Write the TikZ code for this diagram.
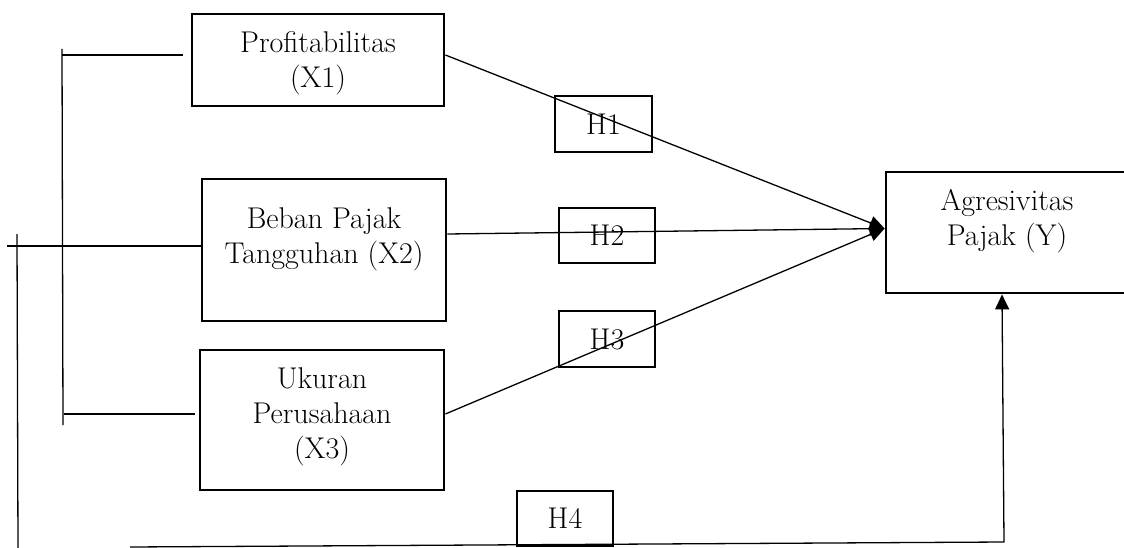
\documentclass[tikz,border=0pt]{standalone}
\usetikzlibrary{arrows.meta}
\begin{document}
\begin{tikzpicture}[x=1pt,y=-1pt,
  box/.style={draw, line width=2.8pt, inner sep=0pt},
  txt/.style={align=center, inner sep=0pt, font=\fontsize{30}{35}\selectfont},
  hbox/.style={box, font=\fontsize{30}{35}\selectfont},
  conn/.style={line width=1.3pt},
  arr/.style={conn, -{Triangle[length=15pt,width=14pt]}}]
\useasboundingbox (0,0) rectangle (1124,548);

% main boxes
\node[box, minimum width=252, minimum height=92] (x1) at (318,60) {};
\node[txt] (x1t) at (318,63) {Profitabilitas\\(X1)};
\node[box, minimum width=244, minimum height=142] (x2) at (324,250) {};
\node[txt] (x2t) at (324,239) {Beban Pajak\\Tangguhan (X2)};
\node[box, minimum width=244, minimum height=140] (x3) at (322,420) {};
\node[txt] (x3t) at (322,417) {Ukuran\\Perusahaan\\(X3)};
\node[box, minimum width=242, minimum height=121] (y) at (1007,232.5) {};
\node[txt] (yt) at (1007,221) {Agresivitas\\Pajak (Y)};

% hypothesis boxes
\node[hbox, minimum width=97, minimum height=56] (h1) at (603.5,124) {H1};
\node[hbox, minimum width=96, minimum height=55] (h2) at (607,235.5) {H2};
\node[hbox, minimum width=96, minimum height=56] (h3) at (607,339) {H3};
\node[hbox, minimum width=96, minimum height=55] (h4) at (565,518.5) {H4};

% free ends
\coordinate (b1top) at (62,49);
\coordinate (b1bot) at (63,425);
\coordinate (b1a) at (62,55);
\coordinate (b1b) at (183,55);
\coordinate (b3a) at (64,414);
\coordinate (b3b) at (195,414);
\coordinate (o1) at (7,246);
\coordinate (otop) at (17,234);
\coordinate (obot) at (18,548);
\coordinate (c0) at (130,547);
\coordinate (c4) at (1004,542);

% bracket lines
\draw[conn] (b1top) -- (b1bot);
\draw[conn] (b1a) -- (b1b);
\draw[conn] (b3a) -- (b3b);
\draw[conn] (otop) -- (obot);
\draw[conn] (o1) -- ([yshift=4pt]x2.west);

% arrows to Y
\draw[arr] ([yshift=5pt]x1.east) -- ([yshift=4pt]y.west);
\draw[arr] ([yshift=16pt]x2.east) -- ([yshift=4pt]y.west);
\draw[arr] ([yshift=6pt]x3.east) -- ([yshift=4pt]y.west);
\draw[arr] (c0) -- (c4) -- ([xshift=-5pt]y.south);
\end{tikzpicture}
\end{document}
